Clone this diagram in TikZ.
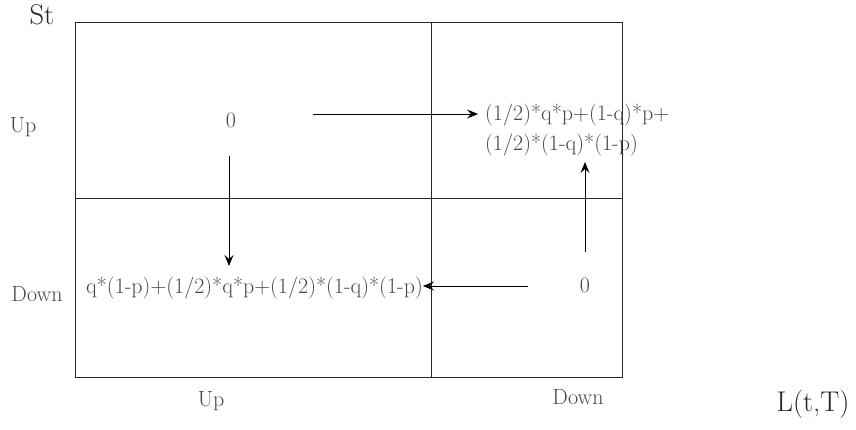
\documentclass[tikz,border=0pt]{standalone}
\usetikzlibrary{arrows.meta}
\begin{document}
\begin{tikzpicture}[x=1pt,y=-1pt,
  grid/.style={line width=0.9pt,draw=black!85},
  lbl/.style={inner sep=0pt,text=black!72,font=\fontsize{22}{26}\selectfont},
  big/.style={inner sep=0pt,text=black!85,font=\fontsize{28.5}{32}\selectfont},
  arr/.style={line width=0.9pt,draw=black,-{Stealth[length=11pt,width=9pt,inset=4pt]}}]
\useasboundingbox (0,0) rectangle (856,429);
% grid
\draw[grid] (75,22) rectangle (622,377);
\draw[grid] (431,22) -- (431,377);
\draw[grid] (75,198) -- (622,198);
% axis titles
\node[big,anchor=base] (st) at (42,24) {St};
\node[big,anchor=base] (ltt) at (813,411) {L(t,T)};
% row labels
\node[lbl,anchor=base] (rup) at (23,132) {Up};
\node[lbl,anchor=base] (rdown) at (37,301) {Down};
% column labels
\node[lbl,anchor=base] (cup) at (211,406) {Up};
\node[lbl,anchor=base] (cdown) at (578,404) {Down};
% cell contents
\node[lbl,anchor=base] (z1) at (231,127) {0};
\node[lbl,anchor=base] (z2) at (585,292) {0};
\node[lbl,anchor=base west] (f1) at (485,120) {(1/2)*q*p+(1-q)*p+};
\node[lbl,anchor=base west] (f2) at (485,150) {(1/2)*(1-q)*(1-p)};
\node[lbl,anchor=base west] (g) at (86,293) {q*(1-p)+(1/2)*q*p+(1/2)*(1-q)*(1-p)};
% arrows
\coordinate (a1s) at (313,114);
\coordinate (a1e) at (478,114);
\draw[arr] (a1s) -- (a1e);
\coordinate (a2s) at (229,156);
\coordinate (a2e) at (229,266);
\draw[arr] (a2s) -- (a2e);
\coordinate (a3s) at (528,286);
\coordinate (a3e) at (423,286);
\draw[arr] (a3s) -- (a3e);
\coordinate (a4s) at (585,252);
\coordinate (a4e) at (585,162);
\draw[arr] (a4s) -- (a4e);
\end{tikzpicture}
\end{document}
